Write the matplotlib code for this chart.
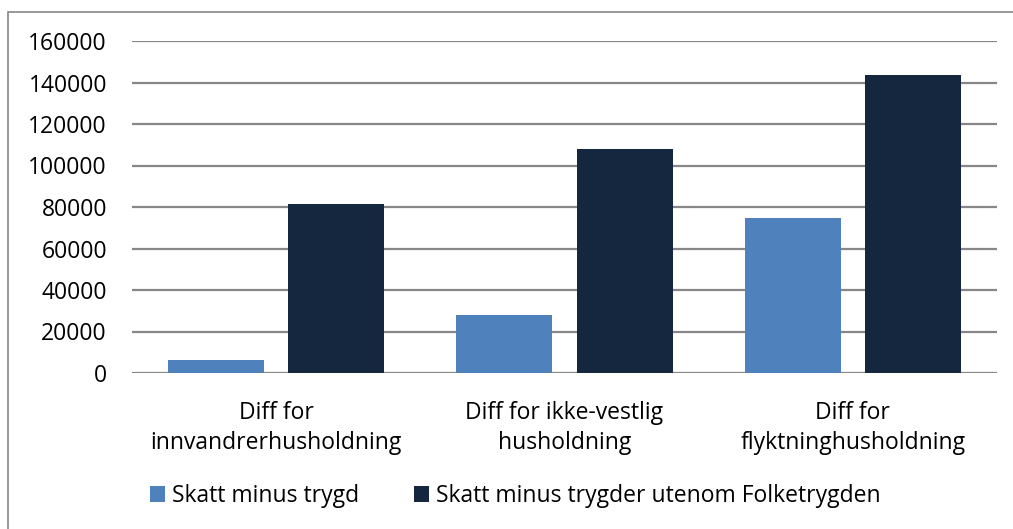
import matplotlib
matplotlib.use("Agg")
import matplotlib.pyplot as plt
import numpy as np

plt.rcParams['font.family'] = ['Open Sans', 'DejaVu Sans']

categories = ["Diff for\ninnvandrerhusholdning", "Diff for ikke-vestlig\nhusholdning", "Diff for\nflyktninghusholdning"]
series_names = ["Skatt minus trygd", "Skatt minus trygder utenom Folketrygden"]
skatt_minus_trygd = [6300, 27800, 74500]
skatt_minus_trygder_utenom = [81300, 108000, 143800]
yticks = [0, 20000, 40000, 60000, 80000, 100000, 120000, 140000, 160000]

col1 = "#4F81BD"
col2 = "#14273F"

W, H = 1013, 529
fig = plt.figure(figsize=(W / 100, H / 100), dpi=100)
ax = fig.add_axes([132 / W, 1 - 373 / H, (997 - 132) / W, (373 - 41) / H])

x = np.arange(len(categories))
bw = 0.333
off = 0.2083
ax.bar(x - off, skatt_minus_trygd, bw, color=col1, label=series_names[0], zorder=3)
ax.bar(x + off, skatt_minus_trygder_utenom, bw, color=col2, label=series_names[1], zorder=3)

ax.set_xlim(-0.5, 2.5)
ax.set_ylim(0, 160000)
ax.set_yticks(yticks)
ax.set_yticklabels([str(v) for v in yticks])
ax.set_xticks(x)
ax.set_xticklabels(categories, linespacing=1.35)
ax.yaxis.grid(True, color="#878787", linewidth=1.6, zorder=0)
ax.tick_params(axis='y', length=0, pad=18, labelsize=16.5, colors="black")
ax.tick_params(axis='x', length=0, pad=20, labelsize=16.5)
for s in ax.spines.values():
    s.set_visible(False)

fig.legend(loc='center left', bbox_to_anchor=(150 / W, 1 - 496 / H), ncol=2,
           frameon=False, fontsize=16.5, handlelength=0.65, handleheight=0.65,
           handletextpad=0.3, columnspacing=2.4, borderpad=0, borderaxespad=0)

# outer chart border
border = plt.Rectangle((8 / W, -0.1), 1.2, (H - 12) / H + 0.1, transform=fig.transFigure,
                       fill=False, edgecolor="#868686", linewidth=1.2)
fig.add_artist(border)

fig.savefig("out.png", dpi=100)
